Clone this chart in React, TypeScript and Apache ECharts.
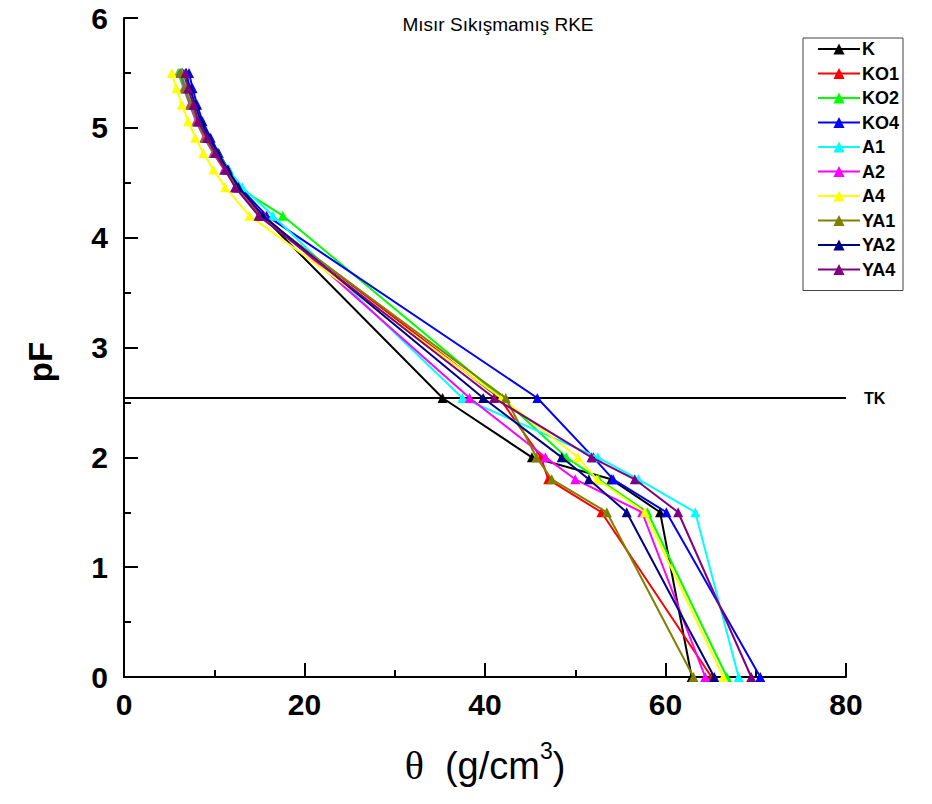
import React, { useEffect, useRef } from "react";
import * as echarts from "echarts";

const pF = [5.5, 5.36, 5.21, 5.06, 4.91, 4.77, 4.62, 4.46, 4.2, 2.54, 2.0, 1.8, 1.5, 0];

const seriesNames = ["K", "KO1", "KO2", "KO4", "A1", "A2", "A4", "YA1", "YA2", "YA4"];
const seriesColors = ["#000000", "#ff0000", "#00ff00", "#0000ff", "#00ffff", "#ff00ff", "#ffff00", "#808000", "#000080", "#800080"];

const thetaK = [6.5, 7.0, 7.6, 8.3, 9.2, 10.2, 11.4, 12.6, 15.3, 35.3, 45.2, 54.0, 59.4, 62.9];
const thetaKO1 = [6.4, 6.9, 7.5, 8.2, 9.1, 10.1, 11.3, 12.5, 15.2, 41.6, 46.2, 47.0, 52.9, 65.1];
const thetaKO2 = [6.0, 6.6, 7.3, 8.0, 8.9, 9.9, 11.1, 12.6, 17.6, 41.9, 49.0, 52.6, 58.0, 66.8];
const thetaKO4 = [7.2, 7.6, 8.1, 8.7, 9.6, 10.5, 11.6, 12.8, 15.8, 45.8, 52.0, 54.2, 60.1, 70.5];
const thetaA1 = [6.4, 6.9, 7.6, 8.3, 9.3, 10.4, 11.6, 13.1, 16.5, 37.5, 52.5, 57.0, 63.3, 68.1];
const thetaA2 = [6.2, 6.7, 7.3, 8.0, 8.9, 9.9, 11.1, 12.5, 15.5, 38.3, 46.7, 50.0, 57.4, 64.4];
const thetaA4 = [5.3, 5.8, 6.4, 7.1, 7.9, 8.8, 9.9, 11.2, 13.9, 41.8, 50.3, 52.4, 57.7, 66.4];
const thetaYA1 = [6.3, 6.8, 7.4, 8.1, 9.0, 10.0, 11.2, 12.4, 15.0, 42.3, 45.7, 47.4, 53.5, 63.1];
const thetaYA2 = [6.9, 7.3, 7.9, 8.5, 9.4, 10.4, 11.5, 12.7, 15.4, 39.8, 48.5, 51.5, 55.7, 65.4];
const thetaYA4 = [6.8, 7.1, 7.7, 8.2, 9.2, 10.1, 11.2, 12.3, 14.9, 41.0, 51.8, 56.6, 61.4, 69.5];

const seriesTheta = [thetaK, thetaKO1, thetaKO2, thetaKO4, thetaA1, thetaA2, thetaA4, thetaYA1, thetaYA2, thetaYA4];

const tkValue = 2.54;
const titleText = "Mısır Sıkışmamış RKE";
const yAxisTitle = "pF";

const App: React.FC = () => {
  const ref = useRef<HTMLDivElement>(null);
  useEffect(() => {
    document.body.style.margin = "0";
    if (!ref.current) return;
    const chart = echarts.init(ref.current, null, { renderer: "svg" });
    const sans = "Arial, Liberation Sans, sans-serif";
    const series: any[] = seriesNames.map((name, i) => ({
      name,
      type: "line",
      data: seriesTheta[i].map((t, j) => [t, pF[j]]),
      symbol: "triangle",
      symbolSize: 10,
      color: seriesColors[i],
      lineStyle: { width: 2, color: seriesColors[i] },
      itemStyle: { color: seriesColors[i] },
      z: 2 + i,
    }));
    series.push({
      name: "TK",
      type: "line",
      data: [],
      markLine: {
        silent: true,
        symbol: "none",
        lineStyle: { color: "#000", width: 2, type: "solid" },
        label: {
          show: true,
          position: "end",
          formatter: "TK",
          color: "#000",
          fontWeight: "bold",
          fontSize: 16,
          fontFamily: sans,
          distance: 18,
        },
        data: [{ yAxis: tkValue }],
      },
    });
    chart.setOption({
      animation: false,
      backgroundColor: "#ffffff",
      title: {
        text: titleText,
        left: 493,
        top: 10,
        textAlign: "center",
        textStyle: { fontSize: 19, fontWeight: "normal", color: "#000", fontFamily: sans },
      },
      graphic: [
        {
          type: "text",
          x: 40,
          y: 362,
          rotation: Math.PI / 2,
          style: {
            text: yAxisTitle,
            fontSize: 33,
            fontWeight: "bold",
            fontFamily: sans,
            fill: "#000",
            align: "center",
            verticalAlign: "middle",
          },
        },
      ],
      grid: { left: 124, right: 86, top: 18, bottom: 127, containLabel: false },
      legend: {
        data: seriesNames,
        orient: "vertical",
        left: 803,
        top: 38,
        padding: [2, 4, 12, 14],
        itemGap: 6.5,
        itemWidth: 42,
        itemHeight: 14,
        borderColor: "#444",
        borderWidth: 1,
        borderRadius: 0,
        textStyle: { fontSize: 18, fontWeight: "bold", color: "#000", fontFamily: sans, padding: [0, 0, 0, -3] },
      },
      xAxis: {
        type: "value",
        min: 0,
        max: 80,
        interval: 20,
        name: "{t|θ}{a|  (g/cm}{s|3}{a|)}",
        nameLocation: "middle",
        nameGap: 62,
        nameTextStyle: {
          rich: {
            t: { fontSize: 40, fontFamily: "Liberation Serif, Times New Roman, serif", color: "#000", verticalAlign: "bottom", lineHeight: 46 },
            a: { fontSize: 38, fontFamily: sans, color: "#000", verticalAlign: "bottom", lineHeight: 46 },
            s: { fontSize: 23, fontFamily: sans, color: "#000", verticalAlign: "top", lineHeight: 46, padding: [0, 0, 18, 0] },
          },
        },
        axisLine: { show: true, lineStyle: { color: "#000", width: 2 } },
        axisTick: { show: true, inside: true, length: 14, lineStyle: { color: "#000", width: 2 } },
        minorTick: { show: true, splitNumber: 2, length: 7, lineStyle: { color: "#000", width: 2 } },
        splitLine: { show: false },
        axisLabel: { fontSize: 30, fontWeight: "bold", color: "#000", fontFamily: sans, margin: 12 },
      },
      yAxis: {
        type: "value",
        min: 0,
        max: 6,
        interval: 1,
        axisLine: { show: true, lineStyle: { color: "#000", width: 2 } },
        axisTick: { show: true, inside: true, length: 14, lineStyle: { color: "#000", width: 2 } },
        minorTick: { show: true, splitNumber: 2, length: 7, lineStyle: { color: "#000", width: 2 } },
        splitLine: { show: false },
        axisLabel: { fontSize: 30, fontWeight: "bold", color: "#000", fontFamily: sans, margin: 16 },
      },
      series,
    });
    return () => chart.dispose();
  }, []);
  return <div ref={ref} style={{ width: 932, height: 804 }} />;
};

export default App;
